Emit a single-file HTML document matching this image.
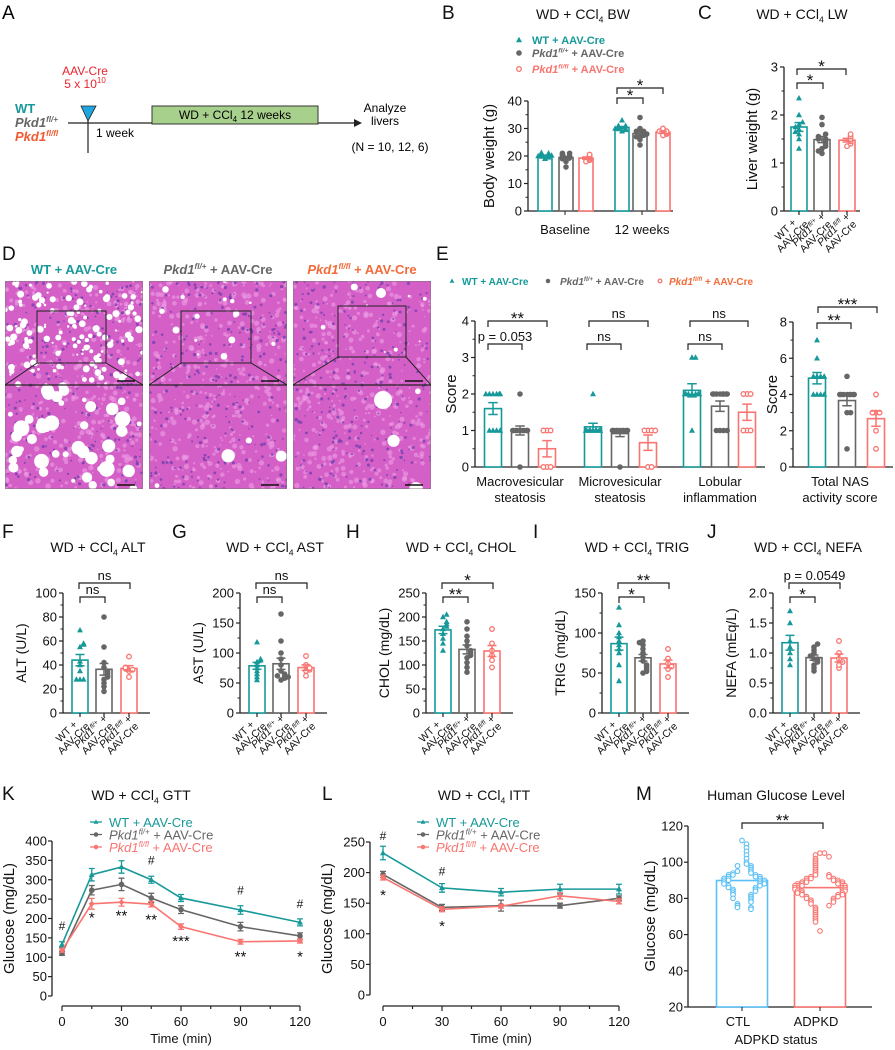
<!DOCTYPE html>
<html><head><meta charset="utf-8"><style>
html,body{margin:0;padding:0;background:#fff;}
svg{display:block;font-family:"Liberation Sans",Arial,sans-serif;}
</style></head><body>
<svg id="fig" width="895" height="1050" viewBox="0 0 895 1050" xmlns="http://www.w3.org/2000/svg">
<g>
<text x="2" y="19" font-size="19">A</text>
<text x="85" y="75" font-size="12" fill="#e8262d" text-anchor="middle">AAV-Cre</text>
<text x="85" y="88" font-size="12" fill="#e8262d" text-anchor="middle">5 x 10<tspan font-size="8" dy="-5">10</tspan></text>
<text x="15" y="113" font-size="13" font-weight="bold" fill="#17999a">WT</text>
<text x="15" y="127" font-size="13" font-weight="bold" font-style="italic" fill="#666">Pkd1<tspan font-size="8" dy="-5">fl/+</tspan></text>
<text x="15" y="141" font-size="13" font-weight="bold" font-style="italic" fill="#f05a30">Pkd1<tspan font-size="8" dy="-5">fl/fl</tspan></text>
<line x1="68" y1="123" x2="358" y2="123" stroke="#222" stroke-width="1.2"/>
<polygon points="362,123 354,119 354,127" fill="#222"/>
<line x1="88" y1="108" x2="88" y2="153" stroke="#222" stroke-width="1.2"/>
<polygon points="81,106 96,106 88,121" fill="#1ea6e0" stroke="#222" stroke-width="0.8"/>
<rect x="152" y="106" width="166" height="18" fill="#a8d08d" stroke="#333"/>
<text x="235" y="119" font-size="12" text-anchor="middle">WD + CCl<tspan font-size="8" dy="3">4</tspan><tspan dy="-3"> 12 weeks</tspan></text>
<text x="96" y="137" font-size="12">1 week</text>
<text x="385" y="112" font-size="12" text-anchor="middle">Analyze</text>
<text x="385" y="125" font-size="12" text-anchor="middle">livers</text>
<text x="390" y="151" font-size="12" text-anchor="middle">(N = 10, 12, 6)</text>
</g>
</svg>
<script>
const NS='http://www.w3.org/2000/svg';
const svg=document.getElementById('fig');
const TEAL='#17999a', GRAY='#666666', RED='#f87571', ORANGE='#f26b3a';
const COLS=[TEAL,GRAY,RED];

// ---------- DATA ----------
const bwBaseline=[[19,19.5,20,20,20.5,21,20,19.8,20.2,21.2],[16,18,19,19.5,20,20,20.5,21,21,19,19.2,20.2],[18,18.5,19,19.5,20,20.5]];
const bw12w=[[29,29.5,30,30,30.5,31,30,29.8,31,33],[24,26,27,27.5,28,28.5,29,29,30,28,27,34],[27.5,28,28.5,29,30,29]];
const liverWeight=[[1.3,1.5,1.6,1.7,1.8,1.75,1.65,1.85,2.0,2.35],[1.2,1.3,1.35,1.4,1.45,1.5,1.5,1.55,1.6,1.8,1.95,1.25],[1.35,1.4,1.45,1.5,1.55,1.6]];
const macroScore=[[1,1,1,1,2,2,2,2,2,2],[0,1,1,1,1,1,1,1,1,1,2,1],[0,0,0,1,1,1]];
const microScore=[[1,1,1,1,1,1,1,1,1,2],[0,1,1,1,1,1,1,1,1,1,1,1],[0,0,1,1,1,1]];
const lobularScore=[[1,2,2,2,2,2,2,2,3,3],[1,1,1,1,2,2,2,2,2,2,2,2],[1,1,1,2,2,2]];
const totalScore=[[4,4,4,4,5,5,5,5,6,7],[1,3,3,4,4,4,4,4,4,4,4,5],[1,2,3,3,3,4]];
const altVals=[[28,28,28,35,40,43,55,57,58,69],[18,22,25,28,30,31,33,35,38,42,55,80],[30,35,36,37,38,47]];
const astVals=[[55,60,65,70,75,80,85,88,90,118],[55,58,60,62,65,70,80,90,100,120,165,60],[62,70,72,75,80,95]];
const cholVals=[[130,145,155,165,175,180,185,190,200,205],[85,95,105,115,120,125,130,140,150,160,175,190],[95,110,120,130,145,175]];
const trigVals=[[40,60,75,80,85,90,95,100,110,132],[50,52,55,58,60,65,70,75,80,85,90,88],[45,55,58,62,68,80]];
const nefaVals=[[0.8,0.9,1.0,1.1,1.2,1.5,1.7],[0.7,0.75,0.8,0.85,0.9,0.9,0.95,1.0,1.05,1.1,1.15],[0.75,0.8,0.85,0.9,1.0,1.2]];
const gttTimes=[0,15,30,45,60,90,120];
const gttWT=[133,313,333,300,253,222,190];
const gttHet=[110,273,288,253,223,179,155];
const gttHom=[118,238,242,237,179,140,142];
const gttErrWT=[7,16,16,9,9,11,9];
const gttErrHet=[5,12,16,12,10,11,8];
const gttErrHom=[5,14,10,7,7,6,5];
const ittTimes=[0,30,60,90,120];
const ittWT=[232,175,168,173,173];
const ittHet=[197,143,146,146,158];
const ittHom=[192,140,145,162,153];
const ittErrWT=[11,7,6,8,8];
const ittErrHet=[5,5,9,4,4];
const ittErrHom=[4,4,3,5,4];
const ctlGlucose=[112,110,108,106,104,102,100,99,98,98,97,96,95,95,94,94,93,93,93,92,92,92,91,91,91,90,90,90,90,89,89,89,88,88,88,87,87,86,86,85,85,84,84,83,82,82,81,80,80,79,78,77,76,75,75,74];
const adpkdGlucose=[105,105,104,103,102,101,100,99,98,97,96,95,94,93,93,92,92,91,91,91,90,90,90,89,89,89,89,88,88,88,88,87,87,87,87,87,86,86,86,86,85,85,85,85,84,84,84,84,83,83,83,82,82,82,81,81,80,80,79,79,78,78,77,76,75,74,73,72,71,70,69,68,67,62];

// ---------- HELPERS ----------
function mk(tag,attrs,nm,parent){
  const n=document.createElementNS(NS,tag);
  for(const k in attrs) n.setAttribute(k,attrs[k]);
  
  
  (parent||svg).appendChild(n);
  return n;
}
function txt(x,y,parts,nm,o,parent){
  o=o||{};
  const t=mk('text',{x:x,y:y,'font-size':o.fs||12,'text-anchor':o.anchor||'start',fill:o.fill||'#111'},nm,parent);
  if(o.bold) t.setAttribute('font-weight','bold');
  if(o.it) t.setAttribute('font-style','italic');
  if(o.rot!==undefined) t.setAttribute('transform','rotate('+o.rot+' '+x+' '+y+')');
  if(typeof parts==='string') parts=[[parts,{}]];
  let shift=0;
  parts.forEach(p=>{
    const s=document.createElementNS(NS,'tspan');
    const po=p[1]||{};
    let target=0;
    if(po.sup){s.setAttribute('font-size',(o.fs||12)*0.62);target=-(o.fs||12)*0.4;}
    if(po.sub){s.setAttribute('font-size',(o.fs||12)*0.62);target=(o.fs||12)*0.25;}
    if(target!==shift){s.setAttribute('dy',target-shift);shift=target;}
    if(po.it) s.setAttribute('font-style','italic');
    if(po.fill) s.setAttribute('fill',po.fill);
    s.textContent=p[0];
    t.appendChild(s);
  });
  return t;
}
function ccl4(rest){return [['WD + CCl',{}],['4',{sub:1}],[rest,{}]];}
function pkd(sup,rest){return [['Pkd1',{it:1}],[sup,{sup:1,it:1}],[rest,{}]];}
function marker(shape,x,y,col,nm,parent,s){
  s=s||1;
  if(shape===0){return mk('polygon',{points:(x)+','+(y-3.2*s)+' '+(x-3*s)+','+(y+2.2*s)+' '+(x+3*s)+','+(y+2.2*s),fill:col},nm,parent);}
  if(shape===1){return mk('circle',{cx:x,cy:y,r:2.8*s,fill:col},nm,parent);}
  return mk('circle',{cx:x,cy:y,r:2.3*s,fill:'#fff',stroke:col,'stroke-width':1.3},nm,parent);
}
function bracket(x1,x2,y,label,nm,fs){
  const g=mk('g',{},nm);
  mk('path',{d:'M'+x1+','+(y+6)+'V'+y+'H'+x2+'V'+(y+6),fill:'none',stroke:'#222','stroke-width':1.2},'bracket-line',g);
  txt((x1+x2)/2,y-(label.indexOf('*')>=0?-3:3),label,'significance-label',{anchor:'middle',fs:fs||(label.indexOf('*')>=0?17:13)},g);
}
function mean(a){return a.reduce((s,v)=>s+v,0)/a.length;}
function sem(a){const m=mean(a);return Math.sqrt(a.reduce((s,v)=>s+(v-m)*(v-m),0)/(a.length-1))/Math.sqrt(a.length);}

function barPanel(p){
  const g=mk('g',{},p.name);
  const Y=v=>p.y0-(v-p.vmin)/(p.vmax-p.vmin)*(p.y0-p.yTop);
  mk('line',{x1:p.ax,y1:p.yTop,x2:p.ax,y2:p.y0,stroke:'#222','stroke-width':1.3},'y-axis',g);
  mk('line',{x1:p.ax,y1:p.y0,x2:p.axEnd,y2:p.y0,stroke:'#222','stroke-width':1.3},'x-axis',g);
  p.ticks.forEach((t,i)=>{
    mk('line',{x1:p.ax-4,y1:Y(t),x2:p.ax,y2:Y(t),stroke:'#222','stroke-width':1.2},'y-tick',g);
    txt(p.ax-6,Y(t)+4.5,p.fmt?p.fmt(t):String(t),'y-tick-label',{anchor:'end',fs:p.tfs||13},g);
    if(i<p.ticks.length-1){const m=(t+p.ticks[i+1])/2;mk('line',{x1:p.ax-2.5,y1:Y(m),x2:p.ax,y2:Y(m),stroke:'#222','stroke-width':1},'y-minor-tick',g);}
  });
  p.groups.forEach((arr,gi)=>{
    const cx=p.xs[gi], col=COLS[gi%3], shp=gi%3;
    const m=mean(arr), e=sem(arr);
    mk('rect',{x:cx-p.bw/2,y:Y(m),width:p.bw,height:p.y0-Y(m),fill:'#fff',stroke:col,'stroke-width':1.6},'bar-'+p.short+'-'+gi,g);
    const tol=(p.vmax-p.vmin)*0.025;
    arr.forEach((v,i)=>{
      let k=0;for(let j=0;j<i;j++){if(Math.abs(arr[j]-v)<tol)k++;}
      let off=(k%2?1:-1)*Math.ceil(k/2)*3.6; if(k===0)off=0;
      const lim=p.bw/2; if(off>lim)off=lim-((off-lim)%lim); if(off<-lim)off=-lim+((-off-lim)%lim);
      marker(shp,cx+off,Y(v),col,'data-point',g,p.ms||1);
    });
    mk('path',{d:'M'+(cx-p.bw*0.28)+','+Y(m+e)+'H'+(cx+p.bw*0.28)+'M'+cx+','+Y(m+e)+'V'+Y(m-e)+'M'+(cx-p.bw*0.28)+','+Y(m-e)+'H'+(cx+p.bw*0.28),fill:'none',stroke:col,'stroke-width':1.5},'error-bar',g);
    if(p.rotLabels){
      mk('line',{x1:cx,y1:p.y0,x2:cx,y2:p.y0+4,stroke:'#222','stroke-width':1.2},'x-tick',g);
      const L=[[[['WT +',{}]],[['AAV-Cre',{}]]],[pkd('fl/+',' +'),[['AAV-Cre',{}]]],[pkd('fl/fl',' +'),[['AAV-Cre',{}]]]][gi];
      txt(cx-11,p.y0+21,L[0],'x-tick-label',{anchor:'middle',fs:10.5,rot:-45},g);
      txt(cx-4,p.y0+28,L[1],'x-tick-label',{anchor:'middle',fs:10.5,rot:-45},g);
    }
  });
  if(p.ylab) txt(p.ylx,(p.y0+p.yTop)/2,p.ylab,'y-axis-title',{anchor:'middle',fs:p.ylfs||14,rot:-90},g);
  if(p.title) txt(p.tx,p.ty,p.title,'chart-title',{anchor:'middle',fs:14},g);
  return Y;
}

// ---------- Panel B ----------
txt(442,19,'B','panel-letter-b',{fs:19});
barPanel({name:'panel-b-body-weight',short:'bw',ax:528,axEnd:673,y0:211,yTop:101,vmin:0,vmax:40,ticks:[0,10,20,30,40],
  xs:[545,566,586,622,640,663],bw:14,groups:[...bwBaseline,...bw12w],ylab:'Body weight (g)',ylx:494,ylfs:15,title:ccl4(' BW'),tx:583,ty:19});
mk('line',{x1:565,y1:211,x2:565,y2:215,stroke:'#222'},'x-tick');
mk('line',{x1:642,y1:211,x2:642,y2:215,stroke:'#222'},'x-tick');
txt(565,234,'Baseline','x-group-label-baseline',{anchor:'middle',fs:13});
txt(642,234,'12 weeks','x-group-label-12-weeks',{anchor:'middle',fs:13});
marker(0,519,40,TEAL,'legend-marker-wt');
txt(532,44,'WT + AAV-Cre','legend-entry-wt',{fs:11,bold:1,fill:TEAL});
marker(1,519,53,GRAY,'legend-marker-het');
txt(532,57,pkd('fl/+',' + AAV-Cre'),'legend-entry-het',{fs:11,bold:1,fill:GRAY});
marker(2,519,69,RED,'legend-marker-hom');
txt(532,73,pkd('fl/fl',' + AAV-Cre'),'legend-entry-hom',{fs:11,bold:1,fill:RED});
bracket(617,643,98,'*','bracket-12w-wt-vs-het');
bracket(617,663,88,'*','bracket-12w-wt-vs-hom');

// ---------- Panel C ----------
txt(698,19,'C','panel-letter-c',{fs:19});
barPanel({name:'panel-c-liver-weight',short:'lw',ax:784,axEnd:860,y0:211,yTop:67,vmin:0,vmax:3,ticks:[0,1,2,3],
  xs:[799,822,847],bw:16,groups:liverWeight,rotLabels:1,ylab:'Liver weight (g)',ylx:757,ylfs:15,title:ccl4(' LW'),tx:802,ty:19});
bracket(797,823,83,'*','bracket-lw-wt-vs-het');
bracket(797,846,69,'*','bracket-lw-wt-vs-hom');

// ---------- Panel D (histology) ----------
txt(2,260,'D','panel-letter-d',{fs:19});
const dTitles=[[['WT + AAV-Cre',{}]],pkd('fl/+',' + AAV-Cre'),pkd('fl/fl',' + AAV-Cre')];
const dCols=[TEAL,GRAY,ORANGE];
const dX=[5,149,293];
let seed=7;function rnd(){seed=(seed*16807)%2147483647;return seed/2147483647;}
const defs=mk('defs',{},'defs');
dX.forEach((x0,i)=>{
  txt(x0+69,274,dTitles[i],'histology-title-'+i,{anchor:'middle',fs:13,bold:1,fill:dCols[i]});
  const cp=mk('clipPath',{id:'clip'+i},'clip',defs);
  mk('rect',{x:x0,y:281,width:138,height:208},'clip-rect',cp);
  const g=mk('g',{'clip-path':'url(#clip'+i+')'},'histology-image-'+i);
  mk('rect',{x:x0,y:281,width:138,height:208,fill:'#d45fc6'},'tissue-background',g);
  for(let k=0;k<420;k++){mk('circle',{cx:x0+rnd()*138,cy:281+rnd()*208,r:0.8+rnd()*2,fill:'#ee9ee6',opacity:0.6},'tissue-texture',g);}
  for(let k=0;k<260;k++){mk('circle',{cx:x0+rnd()*138,cy:281+rnd()*208,r:0.7+rnd()*1,fill:'#7a42b0',opacity:0.85},'nucleus',g);}
  const nTop=[150,16,8][i], nBot=[45,4,3][i];
  for(let k=0;k<nTop;k++){mk('circle',{cx:x0+rnd()*138,cy:281+rnd()*104,r:0.8+rnd()*2.8,fill:'#fff'},'lipid-droplet',g);}
  for(let k=0;k<nBot;k++){mk('circle',{cx:x0+rnd()*138,cy:385+rnd()*104,r:2+rnd()*6,fill:'#fff'},'lipid-droplet',g);}
  if(i===2){mk('circle',{cx:x0+90,cy:400,r:9,fill:'#fff'},'vessel',g);mk('circle',{cx:x0+88,cy:293,r:5,fill:'#fff'},'vessel',g);}
  mk('rect',{x:x0,y:281,width:138,height:208,fill:'none',stroke:'#777','stroke-width':1},'image-border',g);
  mk('line',{x1:x0,y1:385,x2:x0+138,y2:385,stroke:'#222','stroke-width':1.2},'image-split',g);
  const bx=[x0+32,x0+32,x0+45][i], by=[311,311,306][i], bw=[69,70,68][i], bh=[52,52,51][i];
  mk('rect',{x:bx,y:by,width:bw,height:bh,fill:'none',stroke:'#222','stroke-width':1},'zoom-box',g);
  mk('path',{d:'M'+bx+','+(by+bh)+'L'+x0+',385M'+(bx+bw)+','+(by+bh)+'L'+(x0+138)+',385',stroke:'#222','stroke-width':1,fill:'none'},'zoom-lines',g);
  mk('line',{x1:x0+112,y1:381,x2:x0+130,y2:381,stroke:'#111','stroke-width':1.5},'scale-bar',g);
  mk('line',{x1:x0+112,y1:485,x2:x0+130,y2:485,stroke:'#111','stroke-width':1.5},'scale-bar',g);
});

// ---------- Panel E ----------
txt(436,260,'E','panel-letter-e',{fs:19});
marker(0,452,281,TEAL,'legend-marker-wt-e',null,0.8);
txt(462,285,'WT + AAV-Cre','legend-entry-wt-e',{fs:10,bold:1,fill:TEAL});
marker(1,548,281,GRAY,'legend-marker-het-e',null,0.8);
txt(560,285,pkd('fl/+',' + AAV-Cre'),'legend-entry-het-e',{fs:10,bold:1,fill:GRAY});
marker(2,660,281,RED,'legend-marker-hom-e',null,0.8);
txt(669,285,pkd('fl/fl',' + AAV-Cre'),'legend-entry-hom-e',{fs:10,bold:1,fill:ORANGE});
barPanel({name:'panel-e-histology-scores',short:'score',ax:475,axEnd:765,y0:467,yTop:321,vmin:0,vmax:4,ticks:[0,1,2,3,4],
  xs:[493,520,547,593,620,648,692,720,747],bw:17,groups:[...macroScore,...microScore,...lobularScore],ylab:'Score',ylx:456,ylfs:15});
barPanel({name:'panel-e-total-nas',short:'nas',ax:793,axEnd:893,y0:467,yTop:322,vmin:0,vmax:8,ticks:[0,2,4,6,8],
  xs:[817,847,876],bw:17,groups:totalScore,ylab:'Score',ylx:777,ylfs:15});
[[520,'Macrovesicular','steatosis'],[620,'Microvesicular','steatosis'],[720,'Lobular','inflammation'],[840,'Total NAS','activity score']].forEach(l=>{
  txt(l[0],486,l[1],'x-group-label',{anchor:'middle',fs:13});
  txt(l[0],502,l[2],'x-group-label',{anchor:'middle',fs:13});
});
bracket(488,547,321,'**','bracket-macro-hom');
bracket(488,522,344,'p = 0.053','bracket-macro-het');
bracket(589,648,321,'ns','bracket-micro-hom');
bracket(587,621,344,'ns','bracket-micro-het');
bracket(690,748,321,'ns','bracket-lob-hom');
bracket(688,722,344,'ns','bracket-lob-het');
bracket(818,877,307,'***','bracket-nas-hom');
bracket(817,851,323,'**','bracket-nas-het');

// ---------- Panels F-J ----------
const serum=[
 {L:'F',lx:2,ax:63,vmax:100,ticks:[0,20,40,60,80,100],g:altVals,yl:'ALT (U/L)',t:' ALT',b:[['ns','ns']]},
 {L:'G',lx:172,ax:240,vmax:200,ticks:[0,50,100,150,200],g:astVals,yl:'AST (U/L)',t:' AST',b:[['ns','ns']]},
 {L:'H',lx:346,ax:426,vmax:250,ticks:[0,50,100,150,200,250],g:cholVals,yl:'CHOL (mg/dL)',t:' CHOL',b:[['**','*']]},
 {L:'I',lx:533,ax:602,vmax:150,ticks:[0,50,100,150],g:trigVals,yl:'TRIG (mg/dL)',t:' TRIG',b:[['*','**']]},
 {L:'J',lx:707,ax:773,vmax:2,ticks:[0,0.5,1,1.5,2],fmt:v=>v.toFixed(1),g:nefaVals,yl:'NEFA (mEq/L)',t:' NEFA',b:[['*','p = 0.0549']]}
];
serum.forEach(s=>{
  txt(s.lx,538,s.L,'panel-letter-'+s.L.toLowerCase(),{fs:19});
  barPanel({name:'panel-'+s.L.toLowerCase()+'-chart',short:s.L.toLowerCase(),ax:s.ax,axEnd:s.ax+87,y0:713,yTop:593,vmin:0,vmax:s.vmax,ticks:s.ticks,fmt:s.fmt,
    xs:[s.ax+17,s.ax+41,s.ax+66],bw:16,groups:s.g,rotLabels:1,ylab:s.yl,ylx:s.ax-37,ylfs:14,title:ccl4(s.t),tx:s.ax+35,ty:552,tfs:13});
  bracket(s.ax+17,s.ax+42,597,s.b[0][0],'bracket-wt-vs-het');
  bracket(s.ax+16,s.ax+67,583,s.b[0][1],'bracket-wt-vs-hom');
});

// ---------- Line charts K & L ----------
function lineChart(p){
  const g=mk('g',{},p.name);
  const X=t=>p.x0+t/120*(p.x1-p.x0);
  const Y=v=>p.y0-v/p.vmax*(p.y0-p.yTop);
  mk('line',{x1:p.yax,y1:p.yTop,x2:p.yax,y2:p.y0,stroke:'#222','stroke-width':1.3},'y-axis',g);
  mk('line',{x1:p.x0,y1:1006,x2:p.x1,y2:1006,stroke:'#222','stroke-width':1.3},'x-axis',g);
  p.ticks.forEach(t=>{
    mk('line',{x1:p.yax-4,y1:Y(t),x2:p.yax,y2:Y(t),stroke:'#222','stroke-width':1.2},'y-tick',g);
    txt(p.yax-5,Y(t)+4.5,String(t),'y-tick-label',{anchor:'end',fs:13},g);
  });
  [0,15,30,45,60,75,90,105,120].forEach(t=>{
    mk('line',{x1:X(t),y1:1006,x2:X(t),y2:1006+(t%30?3:5),stroke:'#222','stroke-width':1.2},'x-tick',g);
    if(t%30===0) txt(X(t),1026,String(t),'x-tick-label',{anchor:'middle',fs:13},g);
  });
  txt((p.x0+p.x1)/2,1043,'Time (min)','x-axis-title',{anchor:'middle',fs:13},g);
  txt(p.yax-38,(p.y0+p.yTop)/2,'Glucose (mg/dL)','y-axis-title',{anchor:'middle',fs:15,rot:-90},g);
  p.series.forEach((s,si)=>{
    const col=COLS[si];
    const d=s.v.map((v,i)=>(i?'L':'M')+X(p.t[i])+','+Y(v)).join('');
    mk('path',{d:d,fill:'none',stroke:col,'stroke-width':1.6},'series-line-'+si,g);
    s.v.forEach((v,i)=>{
      const x=X(p.t[i]);
      mk('path',{d:'M'+x+','+Y(v+s.e[i])+'V'+Y(v-s.e[i])+'M'+(x-3)+','+Y(v+s.e[i])+'H'+(x+3)+'M'+(x-3)+','+Y(v-s.e[i])+'H'+(x+3),stroke:col,'stroke-width':1.3,fill:'none'},'error-bar',g);
      if(si===2) mk('polygon',{points:x+','+(Y(v)-3)+' '+(x+3)+','+Y(v)+' '+x+','+(Y(v)+3)+' '+(x-3)+','+Y(v),fill:col},'data-point',g);
      else marker(si,x,Y(v),col,'data-point',g);
    });
  });
  const lg=[[['WT + AAV-Cre',{}]],pkd('fl/+',' + AAV-Cre'),pkd('fl/fl',' + AAV-Cre')];
  lg.forEach((l,i)=>{
    mk('line',{x1:p.lgx-6,y1:822+i*12.5,x2:p.lgx+6,y2:822+i*12.5,stroke:COLS[i],'stroke-width':1.3},'legend-line',g);
    marker(i===2?1:i,p.lgx,822+i*12.5,COLS[i],'legend-marker',g,0.8);
    txt(p.lgx+13,827+i*12.5,l,'legend-entry',{fs:13,fill:COLS[i]},g);
  });
  txt(p.tx,800,ccl4(p.title),'chart-title',{anchor:'middle',fs:14},g);
  p.ann.forEach(a=>txt(X(a[0]),Y(a[1])+(a[2].indexOf('*')>=0?8:0),a[2],'significance-label',{anchor:'middle',fs:a[2]==='#'?12:15},g));
}
txt(2,800,'K','panel-letter-k',{fs:19});
lineChart({name:'panel-k-gtt',x0:62,x1:300,yax:52,y0:996,yTop:841,vmax:400,ticks:[0,50,100,150,200,250,300,350,400],t:gttTimes,
  series:[{v:gttWT,e:gttErrWT},{v:gttHet,e:gttErrHet},{v:gttHom,e:gttErrHom}],lgx:96,tx:141,title:' GTT',
  ann:[[0,170,'#'],[15,210,'*'],[30,215,'**'],[45,205,'**'],[60,150,'***'],[90,110,'**'],[120,110,'*'],[45,340,'#'],[90,262,'#'],[120,227,'#']]});
txt(322,800,'L','panel-letter-l',{fs:19});
lineChart({name:'panel-l-itt',x0:383,x1:619,yax:370,y0:995,yTop:842,vmax:250,ticks:[0,50,100,150,200,250],t:ittTimes,
  series:[{v:ittWT,e:ittErrWT},{v:ittHet,e:ittErrHet},{v:ittHom,e:ittErrHom}],lgx:423,tx:484,title:' ITT',
  ann:[[0,253,'#'],[0,168,'*'],[30,195,'#'],[30,118,'*']]});

// ---------- Panel M ----------
txt(636,800,'M','panel-letter-m',{fs:19});
(function(){
  const g=mk('g',{},'panel-m-human-glucose');
  const Y=v=>1007-(v-20)/100*(1007-826);
  mk('line',{x1:688,y1:826,x2:688,y2:1007,stroke:'#222','stroke-width':1.3},'y-axis',g);
  mk('line',{x1:688,y1:1007,x2:872,y2:1007,stroke:'#222','stroke-width':1.3},'x-axis',g);
  [20,40,60,80,100,120].forEach(t=>{
    mk('line',{x1:684,y1:Y(t),x2:688,y2:Y(t),stroke:'#222','stroke-width':1.2},'y-tick',g);
    txt(683,Y(t)+4.5,String(t),'y-tick-label',{anchor:'end',fs:13},g);
  });
  const cols=['#5bc0f5',RED];
  [[742,ctlGlucose,'CTL'],[820,adpkdGlucose,'ADPKD']].forEach((b,bi)=>{
    const m=mean(b[1]);
    mk('rect',{x:b[0]-25.5,y:Y(m),width:51,height:1007-Y(m),fill:'#fff',stroke:cols[bi],'stroke-width':1.6},'bar-'+b[2].toLowerCase(),g);
    b[1].forEach((v,i)=>{
      let k=0;for(let j=0;j<i;j++){if(Math.abs(b[1][j]-v)<2.6)k++;}
      let off=k===0?0:(k%2?1:-1)*Math.ceil(k/2)*4.5;
      if(off>26)off=26-((off-26)%26); if(off<-26)off=-26+((-off-26)%26);
      mk('circle',{cx:b[0]+off,cy:Y(v),r:2.3,fill:'#fff',stroke:cols[bi],'stroke-width':1.1},'data-point',g);
    });
    mk('line',{x1:b[0],y1:1007,x2:b[0],y2:1011,stroke:'#222'},'x-tick',g);
    txt(b[0]-4,1026,b[2],'x-tick-label',{anchor:'middle',fs:13},g);
  });
  txt(776,1044,'ADPKD status','x-axis-title',{anchor:'middle',fs:13},g);
  txt(655,916,'Glucose (mg/dL)','y-axis-title',{anchor:'middle',fs:15,rot:-90},g);
  txt(776,800,'Human Glucose Level','chart-title',{anchor:'middle',fs:14},g);
})();
bracket(742,823,823,'**','bracket-ctl-vs-adpkd');
</script>
</body></html>
